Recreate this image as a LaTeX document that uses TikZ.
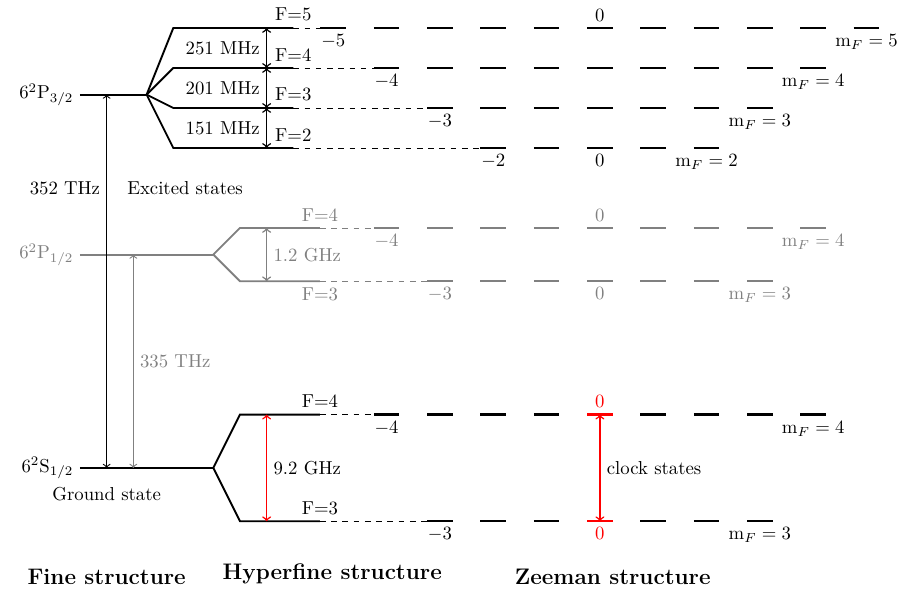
\documentclass[tikz,border=0pt]{standalone}
\usepackage{tikz}
\usetikzlibrary{calc}
\definecolor{dimGray}{RGB}{128,128,128}
\definecolor{clockRed}{RGB}{255,0,0}
\newcommand{\ZeemanRow}[4]{%
  \foreach \m in {-#2,...,#2}
    \draw[zdash,#4] (11.25+\m-0.24,#3) -- (11.25+\m+0.24,#3);
  \coordinate (#1first) at (11.01-#2,#3);
  \node[below,#4] (#1low) at (11.25-#2,#3) {$-#2$};
  \node[below,#4] (#1high) at (11.25+#2,#3) {$\mathrm{m}_F = #2$};
}

\begin{document}
\begin{tikzpicture}[
  level/.style={line width=1pt},
  zdash/.style={very thick},
  link/.style={dashed,thin},
  gap/.style={thick,<->},
  fine/.style={semithick,<->},
  title/.style={font=\large\bfseries}
]
\useasboundingbox (0,-2.2875) rectangle (16.99,8.775);

\ZeemanRow{e5}{5}{8.25}{black}
\ZeemanRow{e4}{4}{7.5}{black}
\ZeemanRow{e3}{3}{6.75}{black}
\ZeemanRow{e2}{2}{6}{black}
\ZeemanRow{p4}{4}{4.5}{dimGray}
\ZeemanRow{p3}{3}{3.5}{dimGray}
\ZeemanRow{g4}{4}{1}{black}
\ZeemanRow{g3}{3}{-1}{black}

\node[above] (e5zero) at (11.25,8.25) {$0$};
\node[below] (e2zero) at (11.25,6) {$0$};
\node[above,dimGray] (p4zero) at (11.25,4.5) {$0$};
\node[below,dimGray] (p3zero) at (11.25,3.5) {$0$};

\coordinate (g4c) at (11.25,1);
\coordinate (g3c) at (11.25,-1);
\draw[zdash,clockRed] ($(g4c)+(-0.24,0)$) -- ($(g4c)+(0.24,0)$);
\draw[zdash,clockRed] ($(g3c)+(-0.24,0)$) -- ($(g3c)+(0.24,0)$);
\node[above,clockRed] (g4zero) at (g4c) {$0$};
\node[below,clockRed] (g3zero) at (g3c) {$0$};
\draw[gap,clockRed] (g4c) -- (g3c) node[midway,right,black] (clock) {clock states};

\coordinate (hx) at (5,0);
\coordinate (fx) at (2,0);
\coordinate (gx) at (2.5,0);

\coordinate (P3a) at (1.5,7);
\coordinate (P3b) at (2.75,7);
\draw[level] (P3a) -- (P3b);
\node[left] (P3lab) at (P3a) {$6^2\mathrm{P}_{3/2}$};
\foreach \f/\y in {5/8.25,4/7.5,3/6.75,2/6}{
  \coordinate (h\f L) at (3.25,\y);
  \coordinate (h\f R) at (5.5,\y);
  \draw[level] (P3b) -- (h\f L) -- (h\f R);
  \draw[link] (h\f R) -- (e\f first);
  \node[above] (hF\f) at (h\f R) {F=\f};
}
\draw[gap] (hx |- h5L) -- (hx |- h4L) node[midway,left] (d54) {251 MHz};
\draw[gap] (hx |- h4L) -- (hx |- h3L) node[midway,left] (d43) {201 MHz};
\draw[gap] (hx |- h3L) -- (hx |- h2L) node[midway,left] (d32) {151 MHz};

\coordinate (P1a) at (1.5,4);
\coordinate (P1b) at (4,4);
\coordinate (q4L) at (4.5,4.5);
\coordinate (q4R) at (6,4.5);
\coordinate (q3L) at (4.5,3.5);
\coordinate (q3R) at (6,3.5);
\draw[level,dimGray] (P1a) -- (P1b);
\draw[level,dimGray] (q4R) -- (q4L) -- (P1b) -- (q3L) -- (q3R);
\draw[link,dimGray] (q4R) -- (p4first);
\draw[link,dimGray] (q3R) -- (p3first);
\node[left,dimGray] (P1lab) at (P1a) {$6^2\mathrm{P}_{1/2}$};
\node[above,dimGray] (qF4) at (q4R) {F=4};
\node[below,dimGray] (qF3) at (q3R) {F=3};
\draw[gap,dimGray] (hx |- q4L) -- (hx |- q3L) node[midway,right] (d1) {1.2 GHz};

\coordinate (S1a) at (1.5,0);
\coordinate (S1b) at (4,0);
\coordinate (s4L) at (4.5,1);
\coordinate (s4R) at (6,1);
\coordinate (s3L) at (4.5,-1);
\coordinate (s3R) at (6,-1);
\draw[level] (S1a) -- (S1b);
\draw[level] (s4R) -- (s4L) -- (S1b) -- (s3L) -- (s3R);
\draw[link] (s4R) -- (g4first);
\draw[link] (s3R) -- (g3first);
\node[left] (S1lab) at (S1a) {$6^2\mathrm{S}_{1/2}$};
\node[above] (sF4) at (s4R) {F=4};
\node[above] (sF3) at (s3R) {F=3};
\draw[gap,clockRed] (hx |- s4L) -- (hx |- s3L) node[midway,right,black] (d2) {9.2 GHz};

\draw[fine,dimGray] (gx |- S1a) -- (gx |- P1a) node[midway,right] (thz335) {335 THz};
\draw[fine] (fx |- S1a) -- (fx |- P3a);
\node[left] (thz352) at (2,5.25) {352 THz};
\node (excited) at (3.47,5.25) {Excited states};
\node (ground) at (2,-0.5) {Ground state};

\node[title] (fine) at (2,-2.04) {Fine structure};
\node[title] (hyper) at (6.23,-1.99) {Hyperfine structure};
\node[title] (zee) at (11.49,-2.04) {Zeeman structure};
\end{tikzpicture}
\end{document}
